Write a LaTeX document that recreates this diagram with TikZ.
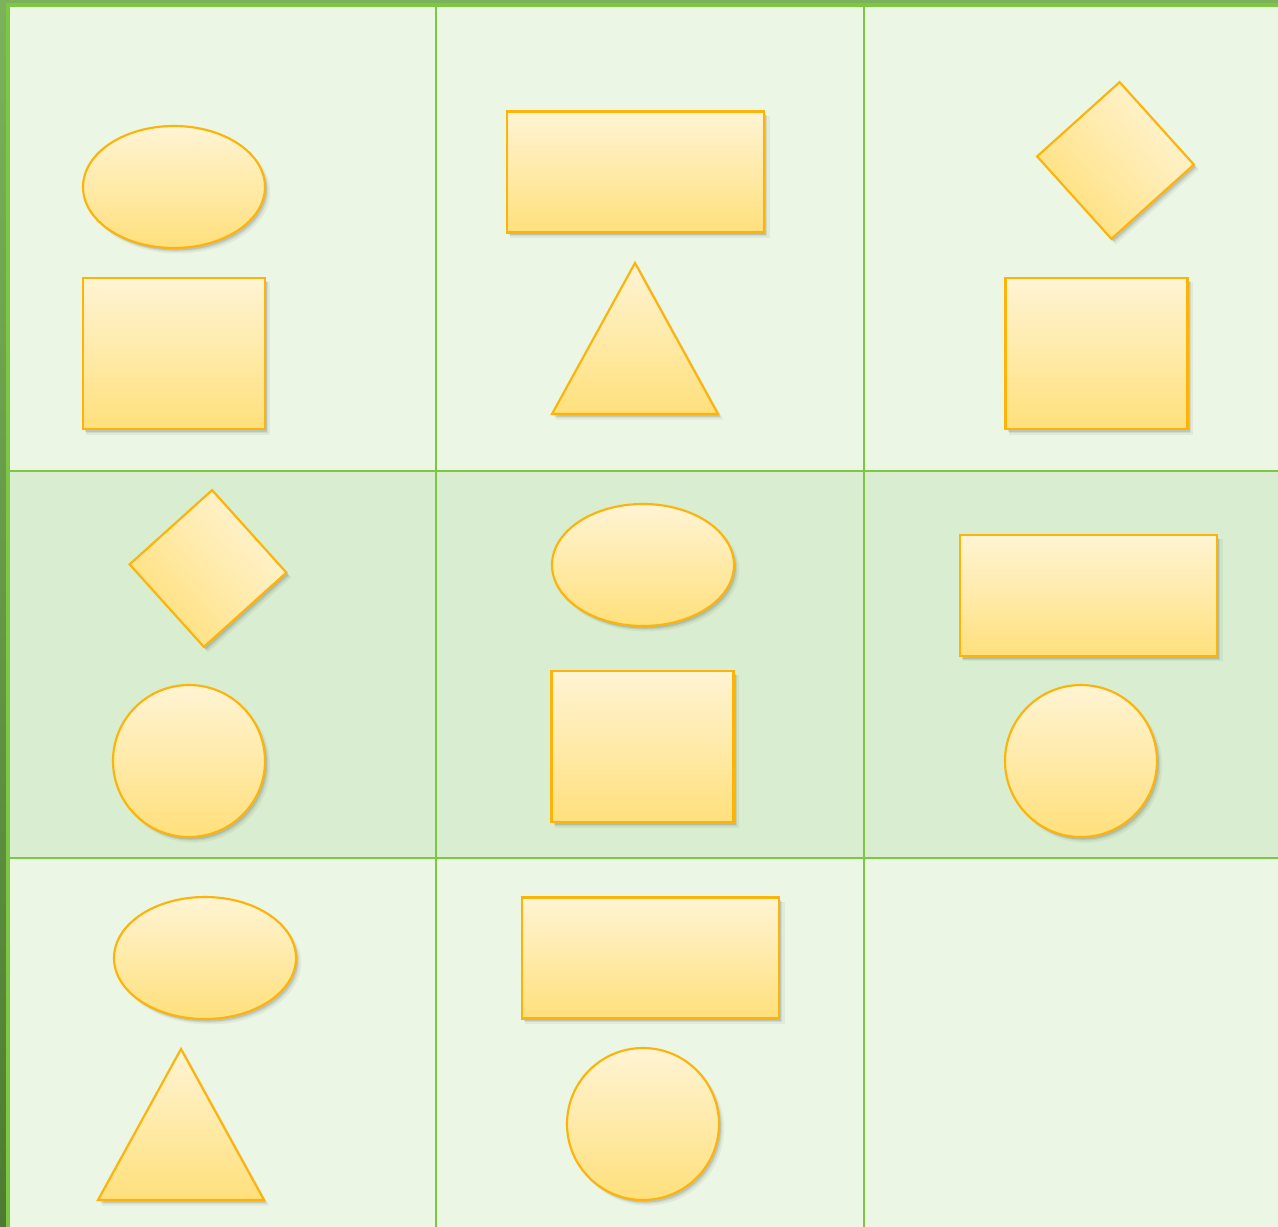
\documentclass[tikz,border=0pt]{standalone}
\usetikzlibrary{shapes.geometric,shadows}
\definecolor{gridgreen}{HTML}{7DC843}
\definecolor{edgetop}{HTML}{7BB25B}
\definecolor{edgedark}{HTML}{4E7B31}
\definecolor{cellpale}{HTML}{EBF6E5}
\definecolor{cellmid}{HTML}{D9EDD0}
\definecolor{shapehi}{HTML}{FFF4D4}
\definecolor{shapelo}{HTML}{FFE07C}
\definecolor{shapeline}{HTML}{FDB308}
\newlength\pxu
\setlength\pxu{0.75pt}
\tikzset{
  shp/.style={draw=shapeline, line width=1.6pt, top color=shapehi, bottom color=shapelo, inner sep=0pt, outer sep=0pt,
    drop shadow={shadow xshift=3.2pt, shadow yshift=-3.6pt, shadow scale=1.01, opacity=.06, fill=black!80},
    drop shadow={shadow xshift=2.4pt, shadow yshift=-2.8pt, opacity=.09, fill=black!80},
    drop shadow={shadow xshift=1.5pt, shadow yshift=-1.9pt, opacity=.12, fill=black!80}},
  oval/.style={shp, ellipse, minimum width=182\pxu, minimum height=122\pxu},
  box/.style={shp, rectangle, minimum width=182\pxu, minimum height=151\pxu},
  wide/.style={shp, rectangle, minimum width=257\pxu, minimum height=121\pxu},
  disc/.style={shp, circle, minimum size=152\pxu},
  gem/.style={shp, rectangle, minimum size=111\pxu, rotate=42, shading angle=-48},
  gridln/.style={gridgreen, line width=2.2pt},
}

\begin{document}
\begin{tikzpicture}[x=0.75pt, y=-0.75pt]
    \useasboundingbox (0,0) rectangle (1278,1227);
    % frame and cells
    \fill[top color=edgetop, bottom color=edgedark] (0,0) rectangle (7,1227);
    \fill[edgetop] (0,0) rectangle (1278,4);
    \fill[cellpale] (8,5) rectangle (1278,471);
    \fill[cellmid] (8,471) rectangle (1278,858);
    \fill[cellpale] (8,858) rectangle (1278,1227);
    \draw[gridgreen, line width=2.5pt] (8,1227) -- (8,5) -- (1278,5);
    \foreach \gx in {436,864} \draw[gridln] (\gx,5) -- (\gx,1227);
    \foreach \gy in {471,858} \draw[gridln] (8,\gy) -- (1278,\gy);

    % row 1
    \node[oval] (ovalA) at (174,187) {};
    \node[box] (boxA) at (174,353.5) {};
    \node[wide] (wideA) at (635.5,172) {};
    \draw[shp] (635,263) -- (718,414) -- (552,414) -- cycle;
    \node[gem] (gemA) at (1115.5,160.5) {};
    \node[box] (boxB) at (1096.5,353.5) {};

    % row 2
    \node[gem] (gemB) at (208,568.5) {};
    \node[disc] (discA) at (189,761) {};
    \node[oval] (ovalB) at (643,565) {};
    \node[box] (boxC) at (642.5,746.5) {};
    \node[wide] (wideB) at (1088.5,595.5) {};
    \node[disc] (discB) at (1081,761) {};

    % row 3
    \node[oval] (ovalC) at (205,958) {};
    \draw[shp] (181,1049) -- (264,1200) -- (98,1200) -- cycle;
    \node[wide] (wideC) at (650.5,958) {};
    \node[disc] (discC) at (643,1124) {};
\end{tikzpicture}
\end{document}
